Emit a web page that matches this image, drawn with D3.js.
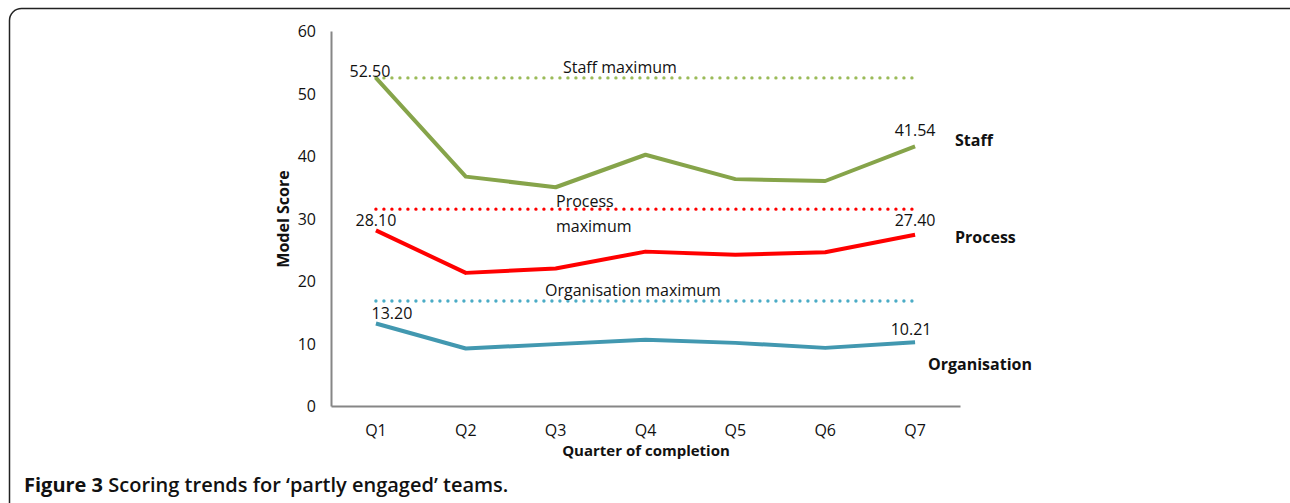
<!DOCTYPE html>
<html>
<head>
<meta charset="utf-8">
<script src="https://cdn.jsdelivr.net/npm/d3@7"></script>
<style>
  html, body { margin: 0; padding: 0; background: #fff; }
  svg { display: block; }
  text { font-family: "Open Sans", sans-serif; fill: #111; }
</style>
</head>
<body>
<div id="chart"></div>
<script>
// data
const quarters = ["Q1", "Q2", "Q3", "Q4", "Q5", "Q6", "Q7"];
const staffScores = [52.50, 36.7, 35.0, 40.2, 36.3, 36.0, 41.54];
const processScores = [28.10, 21.3, 22.0, 24.7, 24.2, 24.6, 27.40];
const organisationScores = [13.20, 9.2, 9.9, 10.6, 10.1, 9.3, 10.21];
const maxima = [52.5, 31.5, 16.8];  // staff, process, organisation
const yTicks = [0, 10, 20, 30, 40, 50, 60];

const width = 1290, height = 503;
const font = "'Open Sans', sans-serif";

const svg = d3.select("#chart").append("svg")
  .attr("width", width)
  .attr("height", height);

// figure frame
svg.append("rect")
  .attr("x", 9.5).attr("y", 8.5)
  .attr("width", 1300).attr("height", 520)
  .attr("rx", 12)
  .attr("fill", "none")
  .attr("stroke", "#222")
  .attr("stroke-width", 1.5);

// scales
const x = d3.scaleBand().domain(quarters).range([331, 960]);
const cx = q => x(q) + x.bandwidth() / 2;
const y = d3.scaleLinear().domain([0, 60]).range([406, 31]);

// axes
const yAxis = svg.append("g")
  .attr("transform", "translate(331,0)")
  .call(d3.axisLeft(y).tickValues(yTicks).tickSize(0).tickPadding(15));
const xAxis = svg.append("g")
  .attr("transform", "translate(0,406)")
  .call(d3.axisBottom(x).tickSize(0).tickPadding(19));
[xAxis, yAxis].forEach(a => {
  a.select(".domain").attr("stroke", "#868686").attr("stroke-width", 2);
  a.selectAll("text").style("font-size", "16px").attr("fill", "#111")
    .style("font-family", font);
});
yAxis.selectAll("text").attr("dy", "0.35em");

// axis titles
svg.append("text")
  .attr("transform", "translate(289,219) rotate(-90)")
  .attr("text-anchor", "middle")
  .style("font-size", "16px").style("font-weight", "bold")
  .text("Model Score");
svg.append("text")
  .attr("x", 646).attr("y", 456)
  .attr("text-anchor", "middle")
  .style("font-size", "15px").style("font-weight", "bold")
  .text("Quarter of completion");

// series
const series = [
  { name: "Staff", values: staffScores, max: maxima[0], line: "#86a44a", dot: "#9bbb59" },
  { name: "Process", values: processScores, max: maxima[1], line: "#ff0000", dot: "#ff0000" },
  { name: "Organisation", values: organisationScores, max: maxima[2], line: "#4298b0", dot: "#4bacc6" }
];

const line = d3.line()
  .x(d => cx(d.q))
  .y(d => y(d.v));

series.forEach(s => {
  // dotted maximum line
  svg.append("line")
    .attr("x1", cx(quarters[0])).attr("x2", cx(quarters[quarters.length - 1]))
    .attr("y1", y(s.max)).attr("y2", y(s.max))
    .attr("stroke", s.dot)
    .attr("stroke-width", 3.4)
    .attr("stroke-linecap", "round")
    .attr("stroke-dasharray", "0 8");

  svg.append("path")
    .datum(s.values.map((v, i) => ({ q: quarters[i], v })))
    .attr("fill", "none")
    .attr("stroke", s.line)
    .attr("stroke-width", 4)
    .attr("stroke-linejoin", "round")
    .attr("d", line);
});

// value labels at first and last quarter
const valueLabels = [
  { q: "Q1", v: staffScores[0], dx: -6, dy: -1 },
  { q: "Q7", v: staffScores[6], dx: 0, dy: -10 },
  { q: "Q1", v: processScores[0], dx: 0, dy: -4 },
  { q: "Q7", v: processScores[6], dx: 0, dy: -9 },
  { q: "Q1", v: organisationScores[0], dx: 16, dy: -5 },
  { q: "Q7", v: organisationScores[6], dx: -4, dy: -7 }
];
valueLabels.forEach(d => {
  svg.append("text")
    .attr("x", cx(d.q) + d.dx)
    .attr("y", y(d.v) + d.dy)
    .attr("text-anchor", "middle")
    .style("font-size", "16px")
    .text(d.v.toFixed(2));
});

// series names on the right
const nameLabels = [
  { text: "Staff", v: staffScores[6], x: 955, dy: 0 },
  { text: "Process", v: processScores[6], x: 955, dy: 8 },
  { text: "Organisation", v: organisationScores[6], x: 928, dy: 28 }
];
nameLabels.forEach(d => {
  svg.append("text")
    .attr("x", d.x)
    .attr("y", y(d.v) + d.dy)
    .style("font-size", "16px").style("font-weight", "bold")
    .text(d.text);
});

// maximum annotations
const maxLabels = [
  { lines: ["Staff maximum"], v: maxima[0], x: 563, dy: -5 },
  { lines: ["Process", "maximum"], v: maxima[1], x: 556, dy: -2 },
  { lines: ["Organisation maximum"], v: maxima[2], x: 545, dy: -5 }
];
maxLabels.forEach(d => {
  d.lines.forEach((t, i) => {
    svg.append("text")
      .attr("x", d.x)
      .attr("y", y(d.v) + d.dy + i * 25)
      .style("font-size", "16px")
      .text(t);
  });
});

// caption
const cap = svg.append("text")
  .attr("x", 24).attr("y", 492)
  .style("font-size", "20px")
  .attr("fill", "#222");
cap.append("tspan").style("font-weight", "bold").text("Figure 3");
cap.append("tspan").style("font-weight", 600).text(" Scoring trends for \u2018partly engaged\u2019 teams.");
</script>
</body>
</html>
